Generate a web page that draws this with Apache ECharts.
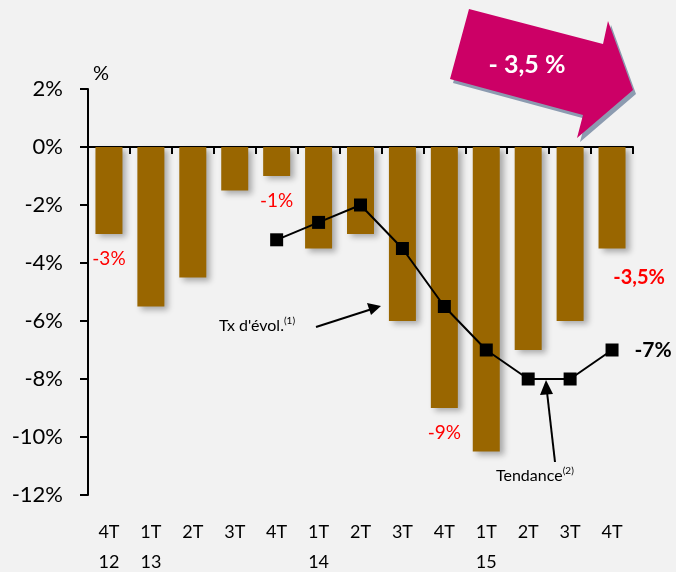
<!DOCTYPE html>
<html>
<head>
<meta charset="utf-8">
<script src="https://cdn.jsdelivr.net/npm/echarts@6/dist/echarts.min.js"></script>
<style>
  html, body { margin: 0; padding: 0; background: #f2f2f2; }
  #chart { width: 676px; height: 572px; }
</style>
</head>
<body>
<div id="chart"></div>
<script>
const trimestres = ['4T\n12', '1T\n13', '2T', '3T', '4T', '1T\n14', '2T', '3T', '4T', '1T\n15', '2T', '3T', '4T'];
const evolution = [-3, -5.5, -4.5, -1.5, -1, -3.5, -3, -6, -9, -10.5, -7, -6, -3.5];
const tendance = [null, null, null, null, -3.2, -2.6, -2, -3.5, -5.5, -7, -8, -8, -7];
const yTicks = [2, 0, -2, -4, -6, -8, -10, -12];

// etiquettes rouges sur certaines barres
const labelsBarres = {
  0: { text: '-3%', offset: [0, 10], bold: false },
  4: { text: '-1%', offset: [0, 10], bold: false },
  8: { text: '-9%', offset: [0, 10], bold: false },
  12: { text: '-3,5%', offset: [27, 14], bold: true }
};

const font = 'Lato, "Open Sans", sans-serif';
const chart = echarts.init(document.getElementById('chart'));

let barData = evolution.map((v, i) => {
  let l = labelsBarres[i];
  if (!l) return v;
  return {
    value: v,
    label: {
      show: true, position: 'bottom', formatter: l.text, offset: l.offset,
      color: '#ff0000', fontSize: l.bold ? 20 : 19, fontWeight: l.bold ? 'bold' : 'normal', fontFamily: font
    }
  };
});

let lineData = tendance.map((v, i) => {
  if (i != tendance.length - 1) return v;
  return {
    value: v,
    label: {
      show: true, position: 'right', formatter: '-7%', offset: [11, 0],
      color: '#000', fontSize: 21, fontWeight: 'bold', fontFamily: font
    }
  };
});

const option = {
  backgroundColor: '#f2f2f2',
  animation: false,
  grid: { left: 88, right: 43, top: 89, bottom: 77, outerBoundsMode: 'none', containLabel: false },
  xAxis: [
    {
      type: 'category',
      data: trimestres,
      position: 'bottom',
      axisLine: { show: false },
      axisTick: { show: false },
      axisLabel: {
        color: '#000', fontSize: 18, fontFamily: font, margin: 22,
        lineHeight: 30, verticalAlign: 'top', interval: 0
      }
    },
    {
      type: 'category',
      data: trimestres,
      gridIndex: 0,
      axisLine: { onZero: true, onZeroAxisIndex: 0, lineStyle: { color: '#000', width: 2 } },
      axisTick: { show: true, inside: true, length: 7, lineStyle: { color: '#000', width: 2 } },
      axisLabel: { show: false }
    }
  ],
  yAxis: {
    type: 'value',
    min: -12, max: 2, interval: 2,
    axisLine: { show: true, lineStyle: { color: '#000', width: 2 } },
    axisTick: { show: true, length: 8, lineStyle: { color: '#000', width: 2 } },
    splitLine: { show: false },
    axisLabel: {
      color: '#000', fontSize: 22, fontFamily: font, margin: 25,
      formatter: v => yTicks.indexOf(v) >= 0 ? v + '%' : ''
    }
  },
  series: [
    {
      type: 'bar',
      data: barData,
      xAxisIndex: 1,
      barWidth: 27,
      itemStyle: {
        color: '#996600',
        shadowColor: 'rgba(0,0,0,0.3)', shadowBlur: 6, shadowOffsetX: 4, shadowOffsetY: 3
      }
    },
    {
      type: 'line',
      data: lineData,
      xAxisIndex: 1,
      symbol: 'rect', symbolSize: 13,
      lineStyle: { color: '#000', width: 2 },
      itemStyle: { color: '#000' },
      z: 5
    }
  ],
  graphic: [
    { type: 'text', left: 93, top: 64, style: { text: '%', fill: '#000', font: '20px ' + font } },
    // fleche magenta
    {
      type: 'polygon', z: 10,
      shape: { points: [[472, 13], [453, 83], [586, 119], [580, 142], [636, 94], [611, 25], [606, 48]] },
      style: { fill: '#8c9bb0' }
    },
    {
      type: 'polygon', z: 11,
      shape: { points: [[469, 9], [450, 79], [583, 115], [577, 138], [633, 90], [608, 21], [603, 44]] },
      style: { fill: '#cc0066' }
    },
    {
      type: 'text', z: 12, x: 527, y: 65,
      style: { text: '- 3,5 %', fill: '#fff', font: 'bold 25px ' + font, align: 'center', verticalAlign: 'middle' }
    },
    // annotations
    {
      type: 'text', left: 219, top: 316,
      style: {
        text: "Tx d'évol.{s|(1)}", fill: '#000', font: '16px ' + font,
        rich: { s: { fontSize: 10, verticalAlign: 'top', padding: [0, 0, 10, 0], fontFamily: font } }
      }
    },
    { type: 'line', shape: { x1: 316, y1: 327, x2: 372, y2: 309 }, style: { stroke: '#000', lineWidth: 2 } },
    { type: 'polygon', shape: { points: [[381, 306], [367, 303], [371, 315]] }, style: { fill: '#000' } },
    {
      type: 'text', left: 496, top: 466,
      style: {
        text: 'Tendance{s|(2)}', fill: '#000', font: '16px ' + font,
        rich: { s: { fontSize: 10, verticalAlign: 'top', padding: [0, 0, 10, 0], fontFamily: font } }
      }
    },
    { type: 'line', shape: { x1: 555, y1: 462, x2: 547, y2: 392 }, style: { stroke: '#000', lineWidth: 2 } },
    { type: 'polygon', shape: { points: [[546, 380], [540, 395], [553, 394]] }, style: { fill: '#000' } }
  ]
};

chart.setOption(option);
</script>
</body>
</html>
